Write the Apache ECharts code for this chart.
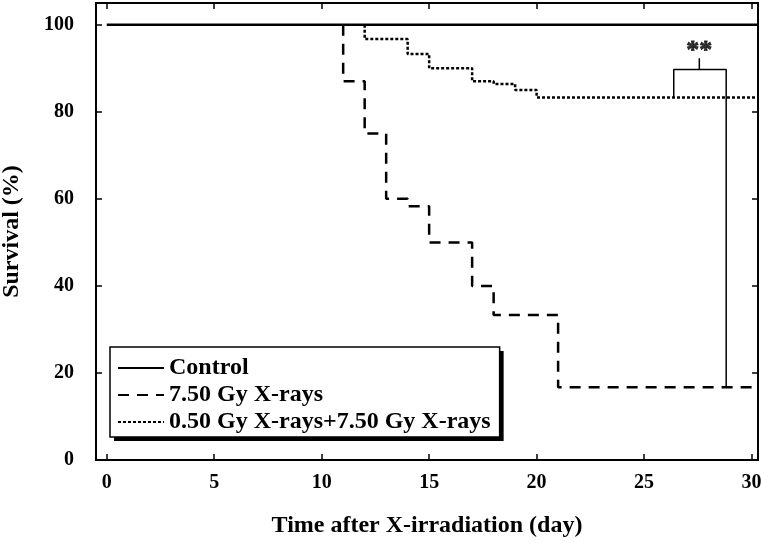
<!DOCTYPE html>
<html>
<head>
<meta charset="utf-8">
<script src="https://cdn.jsdelivr.net/npm/echarts@6/dist/echarts.min.js"></script>
<style>
  html, body { margin: 0; padding: 0; background: #fff; }
  #chart { width: 764px; height: 543px; }
</style>
</head>
<body>
<div id="chart"></div>
<script>
// survival curves, [day, survival %]; drawn as step lines (drop at the next day)
const controlData = [[0, 100], [30.3, 100]];
const lowDoseData = [[11, 100], [11, 87], [12, 75], [13, 60], [14, 58.3], [15, 50], [17, 40], [18, 33.3], [21, 16.7], [30.3, 16.7]];
const primedData = [[12, 100], [12, 96.7], [14, 93.3], [15, 90], [17, 87], [18, 86.4], [19, 85], [20, 83.3], [30.3, 83.3]];
// significance bracket between the two irradiated groups
const bracketData = [[26.38, 83.3], [26.38, 89.7], [28.82, 89.7], [28.82, 16.7]];
const bracketStem = [[27.57, 89.7], [27.57, 92.3]];
const starPoint = [[27.57, 94.0]];
const xTicks = [0, 5, 10, 15, 20, 25, 30];
const yTicks = [0, 20, 40, 60, 80, 100];
const seriesNames = ["Control", "7.50 Gy X-rays", "0.50 Gy X-rays+7.50 Gy X-rays"];

const font = "'Liberation Serif', 'Times New Roman', serif";
const chart = echarts.init(document.getElementById("chart"));

const axisLine = { show: true, onZero: false, lineStyle: { color: "#000", width: 2 } };
function xAx(pos, labels) {
  return {
    type: "value", position: pos, min: -0.5, max: 30.3,
    axisLine: axisLine,
    axisTick: { show: true, inside: true, length: 6, customValues: xTicks, lineStyle: { color: "#000", width: 1.5 } },
    axisLabel: { show: labels, customValues: xTicks, margin: 13, color: "#000", fontFamily: font, fontWeight: "bold", fontSize: 20 },
    splitLine: { show: false },
    name: labels ? "Time after X-irradiation (day)" : "",
    nameLocation: "middle", nameGap: 54,
    nameTextStyle: { color: "#000", fontFamily: font, fontWeight: "bold", fontSize: 24 },
  };
}
function yAx(pos, labels) {
  return {
    type: "value", position: pos, min: 0, max: 105,
    axisLine: axisLine,
    axisTick: { show: true, inside: true, length: 6, customValues: yTicks, lineStyle: { color: "#000", width: 1.5 } },
    axisLabel: { show: labels, customValues: yTicks, margin: 22, color: "#000", fontFamily: font, fontWeight: "bold", fontSize: 20 },
    splitLine: { show: false },
    name: labels ? "Survival (%)" : "",
    nameLocation: "middle", nameGap: 72,
    nameTextStyle: { color: "#000", fontFamily: font, fontWeight: "bold", fontSize: 24 },
  };
}

// two stacked legends: the lower one gives the white box and its drop shadow,
// the upper one only the thin outline
const legendBase = {
  orient: "vertical", left: 110, top: 347,
  data: seriesNames,
  itemWidth: 46, itemHeight: 14, itemGap: 3,
  padding: [9, 9, 3, 7],
  borderRadius: 0,
  textStyle: { color: "#000", fontFamily: font, fontWeight: "bold", fontSize: 24 },
  itemStyle: { opacity: 0 },
};

chart.setOption({
  animation: false,
  backgroundColor: "#fff",
  grid: { left: 96, right: 6, top: 3, bottom: 83, outerBoundsMode: "none", containLabel: false },
  xAxis: [xAx("bottom", true), xAx("top", false)],
  yAxis: [yAx("left", true), yAx("right", false)],
  legend: [
    Object.assign({}, legendBase, {
      backgroundColor: "#fff", borderWidth: 0,
      shadowColor: "#000", shadowBlur: 0, shadowOffsetX: 4, shadowOffsetY: 4,
    }),
    Object.assign({}, legendBase, {
      backgroundColor: "transparent", borderColor: "#000", borderWidth: 1.5,
      textStyle: Object.assign({}, legendBase.textStyle, { color: "rgba(0,0,0,0)" }),
      lineStyle: { opacity: 0 },
    }),
  ],
  series: [
    {
      name: "Control", type: "line", data: controlData, symbol: "none", z: 5,
      lineStyle: { color: "#000", width: 2.5, type: "solid" },
      itemStyle: { color: "#000" },
    },
    {
      name: "7.50 Gy X-rays", type: "line", step: "end", data: lowDoseData, symbol: "none",
      lineStyle: { color: "#000", width: 2.5, type: [11, 8] },
      itemStyle: { color: "#000" },
    },
    {
      name: "0.50 Gy X-rays+7.50 Gy X-rays", type: "line", step: "end", data: primedData, symbol: "none",
      lineStyle: { color: "#000", width: 2.5, type: [3, 2] },
      itemStyle: { color: "#000" },
    },
    {
      name: "bracket", type: "line", data: bracketData, symbol: "none", silent: true,
      lineStyle: { color: "#000", width: 1.5 },
    },
    {
      name: "stem", type: "line", data: bracketStem, symbol: "none", silent: true,
      lineStyle: { color: "#000", width: 1.5 },
    },
    {
      name: "stars", type: "scatter", data: starPoint, symbolSize: 0, silent: true,
      label: {
        show: true, formatter: "**", position: "inside", color: "#000",
        fontFamily: font, fontWeight: "bold", fontSize: 26, textBorderColor: "#000", textBorderWidth: 0.8,
      },
    },
  ],
});
</script>
</body>
</html>
